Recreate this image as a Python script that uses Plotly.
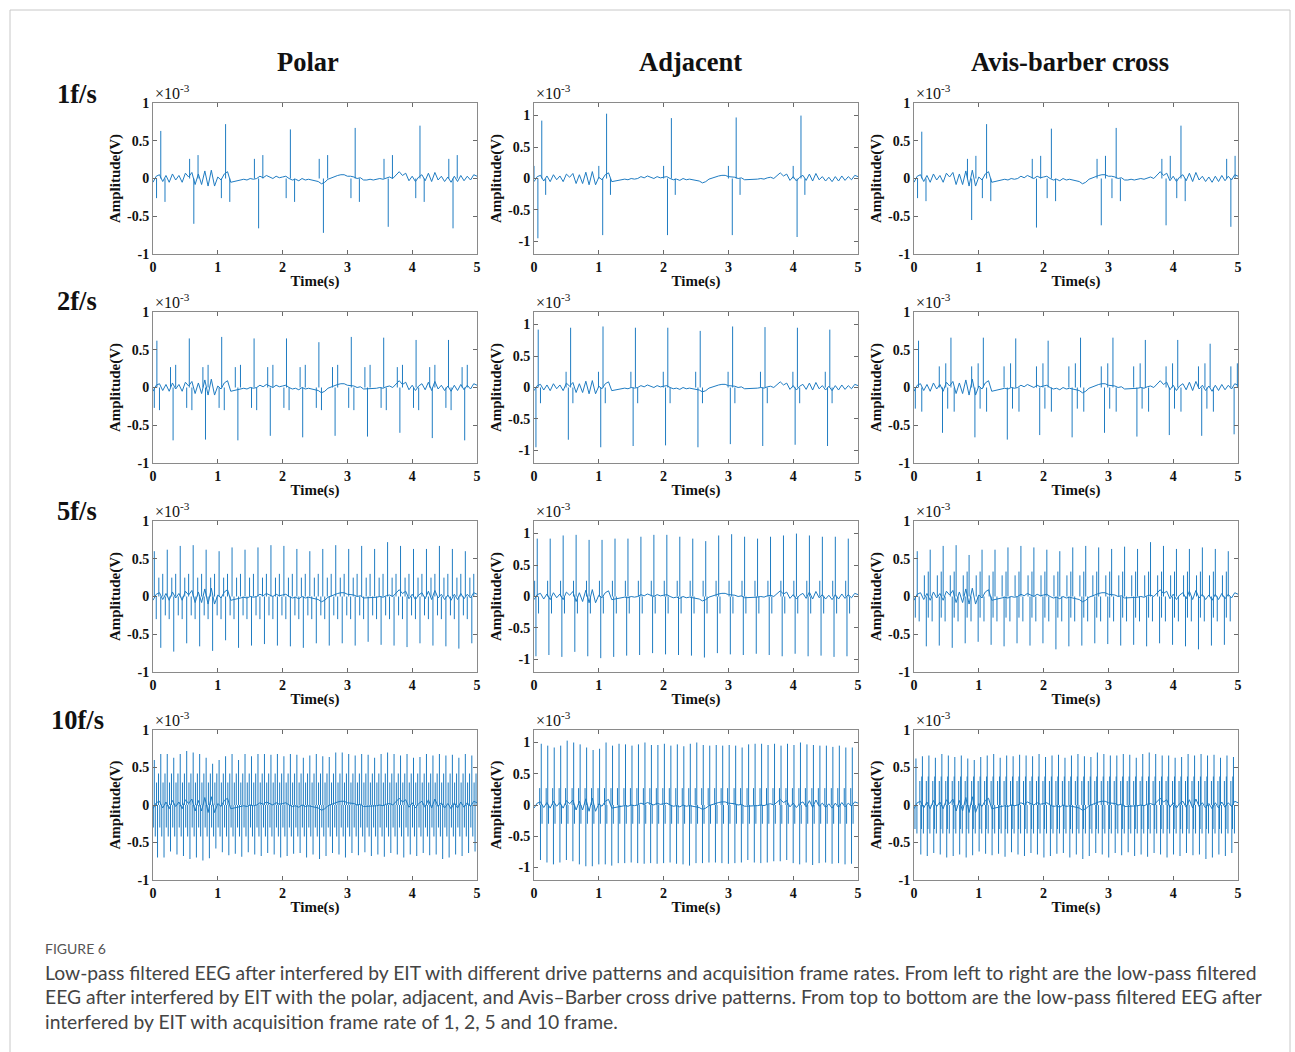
import plotly.graph_objects as go

W, H = 1295, 1052

# ---------------------------------------------------------------
# Data (amplitudes in units of 1e-3 V, times in s)
# ---------------------------------------------------------------
# Low-pass filtered EEG background shared by every recording,
# sampled every 0.05 s from 0 to 5 s
EEG_STEP = 0.05
EEG_BASE = [
    -0.05, 0.03, 0.05, -0.04, 0.04, -0.05, 0.06, -0.02, 0.04, -0.05,
    0.07, 0.02, 0.08, -0.08, 0.06, -0.08, 0.10, -0.10, 0.11, -0.10,
    0.02, -0.02, 0.06, 0.09, -0.05, -0.04, -0.03, -0.03, -0.01, -0.02,
    0.00, -0.01, 0.00, 0.03, 0.01, 0.04, 0.02, 0.00, 0.03, 0.01,
    0.02, 0.03, 0.00, -0.02, -0.01, -0.03, 0.00, -0.02, -0.01, -0.02,
    -0.02, -0.04, -0.07, -0.05, -0.01, 0.01, 0.02, 0.04, 0.05, 0.05,
    0.03, 0.03, 0.02, 0.00, 0.01, -0.02, -0.02, -0.01, -0.02, -0.01,
    0.00, -0.01, 0.01, 0.02, 0.00, 0.05, 0.09, 0.04, 0.07, -0.03,
    0.03, -0.04, 0.02, 0.05, -0.03, 0.07, -0.04, 0.08, -0.02, 0.03,
    -0.04, 0.02, -0.05, 0.03, -0.04, 0.04, -0.03, 0.03, -0.02, 0.05,
    0.03,
]

COLUMN_TITLES = ["Polar", "Adjacent", "Avis-barber cross"]
ROW_LABELS = ["1f/s", "2f/s", "5f/s", "10f/s"]
X_TICKS = [0, 1, 2, 3, 4, 5]
Y_TICKS = [-1, -0.5, 0, 0.5, 1]
Y_TICK_TEXT = ["-1", "-0.5", "0", "0.5", "1"]

# --- Polar drive: alternating positive / negative artefact groups ---
POLAR_STEP = [1.0, 0.5, 0.2, 0.1]
POLAR_UP_T0 = [0.12, 0.06, 0.02, 0.02]
POLAR_DN_T0 = [0.63, 0.31, 0.12, 0.07]
POLAR_SIDE_DT = [0.065, 0.04, 0.03, 0.015]
POLAR_SIDE_LEAD = [0.26, 0.27, 0.25, 0.30]
POLAR_SIDE_TRAIL = [0.31, 0.30, 0.30, 0.42]

POLAR_1F_UP = [0.63, 0.72, 0.65, 0.67, 0.70]
POLAR_1F_DN = [-0.60, -0.66, -0.72, -0.64, -0.66]
POLAR_2F_UP = [0.62, 0.65, 0.67, 0.65, 0.65, 0.60, 0.67, 0.66, 0.63, 0.63]
POLAR_2F_DN = [-0.70, -0.69, -0.70, -0.64, -0.66, -0.64, -0.65, -0.60, -0.67, -0.70]
POLAR_5F_UP = [0.60, 0.62, 0.67, 0.68, 0.62, 0.60, 0.65, 0.62, 0.65, 0.68,
               0.67, 0.63, 0.60, 0.63, 0.68, 0.63, 0.67, 0.63, 0.72, 0.67,
               0.63, 0.63, 0.67, 0.63, 0.60]
POLAR_5F_DN = [-0.68, -0.73, -0.62, -0.66, -0.72, -0.58, -0.68, -0.65, -0.63, -0.65,
               -0.66, -0.68, -0.62, -0.65, -0.62, -0.65, -0.60, -0.64, -0.65, -0.67,
               -0.62, -0.65, -0.66, -0.69, -0.62]
POLAR_10F_UP = [0.60, 0.68, 0.68, 0.63, 0.68, 0.72, 0.70, 0.68, 0.63, 0.55,
                0.60, 0.65, 0.68, 0.60, 0.68, 0.65, 0.68, 0.68, 0.67, 0.68,
                0.65, 0.68, 0.67, 0.63, 0.66, 0.68, 0.65, 0.64, 0.70, 0.70,
                0.68, 0.66, 0.68, 0.67, 0.63, 0.68, 0.70, 0.68, 0.66, 0.68,
                0.63, 0.64, 0.68, 0.66, 0.68, 0.66, 0.67, 0.63, 0.68, 0.66]
POLAR_10F_DN = [-0.70, -0.70, -0.62, -0.66, -0.68, -0.72, -0.70, -0.74, -0.71, -0.58,
                -0.63, -0.67, -0.65, -0.69, -0.63, -0.66, -0.68, -0.64, -0.66, -0.70,
                -0.68, -0.65, -0.64, -0.70, -0.66, -0.72, -0.68, -0.64, -0.66, -0.70,
                -0.64, -0.67, -0.63, -0.68, -0.66, -0.69, -0.64, -0.66, -0.70, -0.66,
                -0.68, -0.64, -0.67, -0.66, -0.72, -0.70, -0.66, -0.68, -0.64, -0.62]

# --- Adjacent drive: each frame gives a negative/positive spike pair ---
ADJ_STEP = [1.0, 0.5, 0.2, 0.1]
ADJ_T0 = [0.06, 0.03, 0.03, 0.10]
ADJ_DT = [0.06, 0.035, 0.02, 0.012]
ADJ_LEAD = [0.20, 0.25, 0.25, 0.27]
ADJ_TRAIL = [-0.26, -0.25, -0.27, -0.30]

ADJ_1F_DN = [-0.95, -0.90, -0.90, -0.90, -0.93]
ADJ_1F_UP = [0.92, 1.03, 0.96, 0.97, 1.00]
ADJ_2F_DN = [-0.95, -0.83, -0.95, -0.93, -0.92, -0.95, -0.90, -0.93, -0.91, -0.93]
ADJ_2F_UP = [0.92, 0.95, 0.97, 0.95, 0.95, 0.90, 0.97, 0.96, 0.95, 0.92]
ADJ_5F_DN = [-0.95, -0.93, -0.96, -0.88, -0.95, -0.98, -0.96, -0.94, -0.93, -0.90,
             -0.92, -0.93, -0.94, -0.97, -0.90, -0.92, -0.93, -0.91, -0.93, -0.95,
             -0.91, -0.95, -0.94, -0.96, -0.95]
ADJ_5F_UP = [0.92, 0.92, 0.97, 0.98, 0.90, 0.90, 0.92, 0.92, 0.95, 0.98,
             0.98, 0.95, 0.92, 0.88, 0.97, 0.99, 0.95, 0.92, 0.95, 0.97,
             1.00, 0.97, 0.95, 0.95, 0.92]
ADJ_10F_DN = [-0.88, -0.92, -0.95, -0.92, -0.88, -0.90, -0.95, -0.98, -0.98, -0.95,
              -0.95, -0.97, -0.93, -0.93, -0.92, -0.93, -0.94, -0.93, -0.94, -0.93,
              -0.92, -0.94, -0.95, -0.97, -0.93, -0.93, -0.92, -0.92, -0.93, -0.94,
              -0.93, -0.92, -0.88, -0.92, -0.93, -0.92, -0.90, -0.90, -0.88, -0.93,
              -0.95, -0.92, -0.96, -0.93, -0.92, -0.94, -0.93, -0.95, -0.94]
ADJ_10F_UP = [0.98, 0.95, 0.92, 0.95, 1.03, 1.00, 0.97, 0.92, 0.88, 0.90,
              1.00, 0.95, 0.98, 0.97, 0.95, 0.97, 1.00, 0.96, 0.96, 0.98,
              0.95, 0.97, 0.94, 0.98, 1.00, 0.96, 0.95, 0.96, 0.95, 0.96,
              0.95, 0.92, 0.97, 0.98, 0.98, 0.96, 0.98, 0.95, 0.98, 0.96,
              1.00, 0.97, 0.96, 0.95, 0.95, 0.93, 0.95, 0.92, 0.92]

# --- Avis-Barber cross drive ---
AVIS_STEP = [1.0, 0.5, 0.2, 0.1]
AVIS_UP_T0 = [0.12, 0.07, 0.05, 0.03]
AVIS_DN_T0 = [0.89, 0.44, 0.19, 0.105]
AVIS_SIDE_DT = [0.065, 0.05, 0.03, 0.015]
AVIS_SIDE_LEAD = [0.26, 0.28, 0.28, 0.32]
AVIS_SIDE_TRAIL = [0.30, 0.32, 0.33, 0.38]

AVIS_1F_UP = [0.62, 0.72, 0.66, 0.67, 0.70]
AVIS_1F_DN = [-0.55, -0.65, -0.62, -0.62, -0.64]
AVIS_2F_UP = [0.62, 0.66, 0.66, 0.65, 0.62, 0.66, 0.66, 0.63, 0.63, 0.58]
AVIS_2F_DN = [-0.60, -0.66, -0.69, -0.63, -0.66, -0.60, -0.65, -0.63, -0.64, -0.62]
AVIS_5F_UP = [0.60, 0.62, 0.67, 0.68, 0.55, 0.62, 0.62, 0.65, 0.67, 0.65,
              0.62, 0.60, 0.65, 0.67, 0.65, 0.63, 0.66, 0.63, 0.72, 0.67,
              0.63, 0.63, 0.65, 0.63, 0.60]
AVIS_5F_DN = [-0.66, -0.65, -0.68, -0.62, -0.60, -0.64, -0.66, -0.62, -0.65, -0.62,
              -0.70, -0.66, -0.65, -0.62, -0.63, -0.65, -0.64, -0.66, -0.62, -0.64,
              -0.66, -0.70, -0.65, -0.64]
AVIS_10F_UP = [0.62, 0.65, 0.66, 0.63, 0.68, 0.66, 0.64, 0.66, 0.62, 0.60,
               0.64, 0.66, 0.68, 0.63, 0.66, 0.65, 0.67, 0.66, 0.65, 0.68,
               0.64, 0.66, 0.67, 0.63, 0.66, 0.68, 0.65, 0.64, 0.70, 0.68,
               0.66, 0.66, 0.68, 0.67, 0.63, 0.68, 0.70, 0.68, 0.66, 0.66,
               0.63, 0.64, 0.68, 0.66, 0.68, 0.66, 0.67, 0.63, 0.66, 0.64]
AVIS_10F_DN = [-0.66, -0.68, -0.64, -0.66, -0.70, -0.68, -0.66, -0.70, -0.67, -0.62,
               -0.65, -0.67, -0.65, -0.69, -0.63, -0.66, -0.68, -0.64, -0.66, -0.70,
               -0.68, -0.65, -0.64, -0.70, -0.66, -0.72, -0.68, -0.64, -0.66, -0.70,
               -0.64, -0.67, -0.63, -0.68, -0.66, -0.69, -0.64, -0.66, -0.70, -0.66,
               -0.68, -0.64, -0.67, -0.66, -0.72, -0.70, -0.66, -0.68, -0.64]

CAPTION_HEAD = "FIGURE 6"
CAPTION_LINES = [
    "Low-pass filtered EEG after interfered by EIT with different drive patterns and acquisition frame rates. From left to right are the low-pass filtered",
    "EEG after interfered by EIT with the polar, adjacent, and Avis\u2013Barber cross drive patterns. From top to bottom are the low-pass filtered EEG after",
    "interfered by EIT with acquisition frame rate of 1, 2, 5 and 10 frame.",
]

# ---------------------------------------------------------------
# Spike trains built from the group schedules above
# ---------------------------------------------------------------
def alternating_groups(up_t0, dn_t0, step, ups, dns, side_dt, lead, trail):
    """Groups of (side, main, side) spikes; side spikes oppose the main one."""
    spikes = []
    for k, a in enumerate(ups):
        t = up_t0 + k * step
        spikes += [(t - side_dt, -lead), (t, a), (t + side_dt, -trail)]
    for k, a in enumerate(dns):
        t = dn_t0 + k * step
        spikes += [(t - side_dt, lead), (t, a), (t + side_dt, trail)]
    return spikes


def paired_groups(t0, step, dns, ups, dt, lead, trail):
    """Adjacent pattern: small lead, big negative, big positive, small trail."""
    spikes = []
    for k, (d, u) in enumerate(zip(dns, ups)):
        t = t0 + k * step
        spikes += [(t - dt, lead), (t, d), (t + dt, u), (t + 2 * dt, trail)]
    return spikes


polar_up = [POLAR_1F_UP, POLAR_2F_UP, POLAR_5F_UP, POLAR_10F_UP]
polar_dn = [POLAR_1F_DN, POLAR_2F_DN, POLAR_5F_DN, POLAR_10F_DN]
adj_up = [ADJ_1F_UP, ADJ_2F_UP, ADJ_5F_UP, ADJ_10F_UP]
adj_dn = [ADJ_1F_DN, ADJ_2F_DN, ADJ_5F_DN, ADJ_10F_DN]
avis_up = [AVIS_1F_UP, AVIS_2F_UP, AVIS_5F_UP, AVIS_10F_UP]
avis_dn = [AVIS_1F_DN, AVIS_2F_DN, AVIS_5F_DN, AVIS_10F_DN]

panels = []  # (row, col, spikes, y_range)
for r in range(4):
    panels.append((r, 0, alternating_groups(POLAR_UP_T0[r], POLAR_DN_T0[r], POLAR_STEP[r],
                                            polar_up[r], polar_dn[r], POLAR_SIDE_DT[r],
                                            POLAR_SIDE_LEAD[r], POLAR_SIDE_TRAIL[r]), (-1, 1)))
    panels.append((r, 1, paired_groups(ADJ_T0[r], ADJ_STEP[r], adj_dn[r], adj_up[r],
                                       ADJ_DT[r], ADJ_LEAD[r], ADJ_TRAIL[r]), (-1.2, 1.2)))
    panels.append((r, 2, alternating_groups(AVIS_UP_T0[r], AVIS_DN_T0[r], AVIS_STEP[r],
                                            avis_up[r], avis_dn[r], AVIS_SIDE_DT[r],
                                            AVIS_SIDE_LEAD[r], AVIS_SIDE_TRAIL[r]), (-1, 1)))

# ---------------------------------------------------------------
# Figure
# ---------------------------------------------------------------
COL_PX = [(153, 477), (534, 858), (914, 1238)]
ROW_PX = [(103, 254), (312, 463), (521, 672), (730, 880)]
LINE_COLOR = "#1f7cc2"
SERIF = "Liberation Serif, Times New Roman, serif"
SANS = "Lato, Open Sans, sans-serif"

eeg_t = [k * EEG_STEP for k in range(len(EEG_BASE))]

fig = go.Figure()
layout = {}
annotations = []

for idx, (r, c, spikes, yr) in enumerate(panels):
    n = idx + 1
    xname = "xaxis" if n == 1 else f"xaxis{n}"
    yname = "yaxis" if n == 1 else f"yaxis{n}"
    xref = "x" if n == 1 else f"x{n}"
    yref = "y" if n == 1 else f"y{n}"
    x0, x1 = COL_PX[c]
    y0, y1 = ROW_PX[r]

    sx, sy = [], []
    for t, a in sorted(spikes):
        if 0 <= t <= 5:
            sx += [t, t, None]
            sy += [0, a, None]

    fig.add_trace(go.Scatter(x=eeg_t, y=EEG_BASE, mode="lines", xaxis=xref, yaxis=yref,
                             line=dict(color=LINE_COLOR, width=1), showlegend=False,
                             hoverinfo="skip"))
    fig.add_trace(go.Scatter(x=sx, y=sy, mode="lines", xaxis=xref, yaxis=yref,
                             line=dict(color=LINE_COLOR, width=1), showlegend=False,
                             hoverinfo="skip", connectgaps=False))

    axis_common = dict(showline=True, linecolor="#8a8a8a", linewidth=1, mirror="ticks",
                       ticks="inside", ticklen=4, tickcolor="#6a6a6a", showgrid=False,
                       zeroline=False, automargin=False,
                       tickfont=dict(family=SERIF, size=14, color="#111", weight="bold"))
    layout[xname] = dict(axis_common, domain=[x0 / W, x1 / W], anchor=yref, range=[0, 5],
                         tickvals=X_TICKS,
                         title=dict(text="Time(s)", standoff=1,
                                    font=dict(family=SERIF, size=15, color="#111", weight="bold")))
    layout[yname] = dict(axis_common, domain=[1 - y1 / H, 1 - y0 / H], anchor=xref,
                         range=list(yr), tickvals=Y_TICKS, ticktext=Y_TICK_TEXT,
                         title=dict(text="Amplitude(V)", standoff=2,
                                    font=dict(family=SERIF, size=15, color="#111", weight="bold")))
    annotations.append(dict(text="\u00d710<sup>-3</sup>", x=x0 / W, y=1 - y0 / H,
                            xref="paper", yref="paper", xanchor="left", yanchor="bottom",
                            showarrow=False, xshift=0, yshift=-1,
                            font=dict(family=SERIF, size=16, color="#111")))

for c, title in enumerate(COLUMN_TITLES):
    cx = [308, 690, 1070][c]
    annotations.append(dict(text=f"<b>{title}</b>", x=cx / W, y=1 - 62 / H,
                            xref="paper", yref="paper", xanchor="center", yanchor="middle",
                            showarrow=False, font=dict(family=SERIF, size=26.5, color="#111")))

for r, lab in enumerate(ROW_LABELS):
    cy = [94, 301, 511, 720][r]
    annotations.append(dict(text=f"<b>{lab}</b>", x=77 / W, y=1 - cy / H,
                            xref="paper", yref="paper", xanchor="center", yanchor="middle",
                            showarrow=False, font=dict(family=SERIF, size=26.5, color="#111")))

annotations.append(dict(text=CAPTION_HEAD, x=43 / W, y=1 - 948 / H, xref="paper", yref="paper",
                        xanchor="left", yanchor="middle", showarrow=False,
                        font=dict(family=SANS, size=14, color="#555")))
for i, line in enumerate(CAPTION_LINES):
    annotations.append(dict(text=line, x=43 / W, y=1 - (972 + 24.5 * i) / H,
                            xref="paper", yref="paper", xanchor="left", yanchor="middle",
                            showarrow=False, font=dict(family=SANS, size=19.3, color="#444")))

fig.update_layout(
    width=W, height=H, margin=dict(l=0, r=0, t=0, b=0, pad=0, autoexpand=False),
    paper_bgcolor="white", plot_bgcolor="white",
    annotations=annotations,
    shapes=[dict(type="rect", xref="paper", yref="paper",
                 x0=10 / W, x1=1290 / W, y0=1 - 1070 / H, y1=1 - 10 / H,
                 line=dict(color="#c8c8c8", width=1))],
    **layout,
)

fig.write_html("out.html",
               post_script="document.body.style.margin='0';"
                           "document.body.style.overflow='hidden';")
